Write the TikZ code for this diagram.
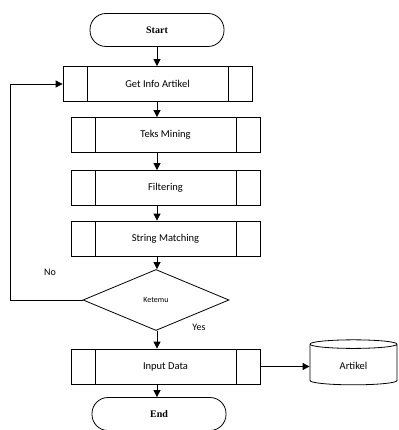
\documentclass[tikz,border=0pt]{standalone}
\usepackage{fontspec}
\setmainfont{Carlito}
\newfontfamily\serifbold{Liberation Serif}
\usetikzlibrary{
    shapes.geometric,
    arrows.meta,
    positioning,
    calc
}

\begin{document}
\begin{tikzpicture}[
        x=1pt, y=-1pt,
        line width=0.8pt,
        terminal/.style={draw, rounded corners=16pt, minimum width=134pt, minimum height=33pt, font=\serifbold\bfseries\fontsize{10}{12}\selectfont},
        subproc/.style={draw, minimum width=189pt, minimum height=35pt, font=\fontsize{10.5}{12}\selectfont,
            path picture={
                \draw ([xshift=24pt]path picture bounding box.north west) -- ([xshift=24pt]path picture bounding box.south west);
                \draw ([xshift=-24pt]path picture bounding box.north east) -- ([xshift=-24pt]path picture bounding box.south east);
            }},
        decision/.style={draw, diamond, inner sep=0pt, minimum width=146pt, minimum height=61pt, font=\fontsize{8}{10}\selectfont},
        store/.style={draw, cylinder, shape border rotate=90, aspect=0.25, minimum width=87pt, minimum height=45pt, font=\fontsize{10.5}{12}\selectfont},
        arrow/.style={-{Triangle[length=7pt, width=7pt]}},
        lbl/.style={font=\fontsize{10}{12}\selectfont}
    ]
        \useasboundingbox[fill=white] (0,0) rectangle (398,430);

        % Terminals
        \node[terminal] (start) at (157,30) {Start};
        \node[terminal] (end) at (159,414) {End};

        % Process steps
        \node[subproc] (getinfo) at (157.5,84) {Get Info Artikel};
        \node[subproc] (teks) at (165.5,135) {Teks Mining};
        \node[subproc] (filter) at (165.5,188) {Filtering};
        \node[subproc] (match) at (165.5,238.5) {String Matching};

        % Decision
        \node[decision] (ketemu) at (156,300) {Ketemu};

        % Input + database
        \node[subproc] (input) at (165.5,366.5) {Input Data};
        \node[store] (artikel) at (353.5,365.5) {Artikel};

        % Labels
        \node[lbl] (no) at (50,272) {No};
        \node[lbl, fill=white, inner sep=1pt] (yes) at (199,327) {Yes};

        % Arrows
        \coordinate (loopx) at (10,300);
        \draw[arrow] (start) -- (start |- getinfo.north);
        \foreach \i/\j in {getinfo/teks, teks/filter, filter/match, match/ketemu, ketemu/input, input/end} {
            \draw[arrow] (\i.south -| start) -- (start |- \j.north);
        }
        \draw[arrow] (ketemu.west) -- (loopx) |- (getinfo.west);
        \draw[arrow] (input.east) -- (artikel.west |- input.east);

    \end{tikzpicture}
\end{document}
